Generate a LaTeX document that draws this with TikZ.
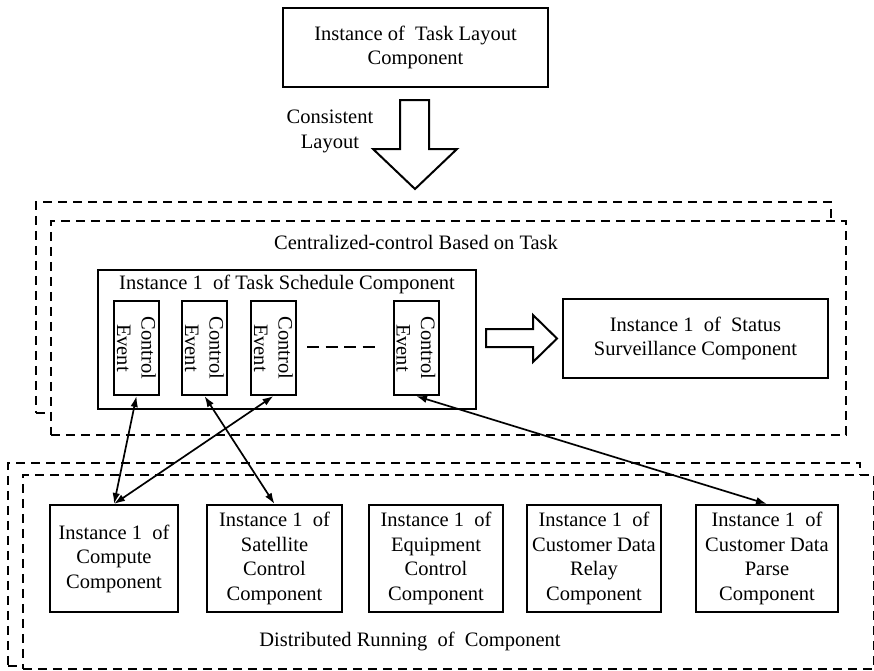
\documentclass[tikz,border=0pt]{standalone}
\usepackage{fontspec}
\setmainfont{Liberation Serif}
\usetikzlibrary{arrows.meta}
\begin{document}
\begin{tikzpicture}[x=1pt,y=-1pt,
  every node/.style={font=\fontsize{20.5}{24.5}\selectfont, inner sep=2pt, align=center},
  box/.style={draw, line width=2pt},
  grp/.style={draw, line width=1.8pt, dash pattern=on 9pt off 6pt, fill=white,
    anchor=north west, inner sep=0pt},
  evbox/.style={box, rotate=-90, minimum width=94, minimum height=45, inner sep=0pt},
  comp/.style={box, minimum height=107},
  hollow/.style={draw, line width=2pt, fill=white, line join=miter},
  link/.style={{Latex[length=11pt,width=7.5pt]}-{Latex[length=11pt,width=7.5pt]}, line width=1.7pt}
]
\useasboundingbox (0,0) rectangle (874,670);

% task layout and the broad arrow below it
\node[box, minimum width=265, minimum height=79] (layout) at (415.5,47.5)
  {Instance of\ \ Task Layout\\Component};
\draw[hollow] (400,100) -- (429,100) -- (429,149) -- (457,149) -- (415,189)
  -- (373,149) -- (400,149) -- cycle;
\node (consist) at (330,131.5) {Consistent\\Layout};

% centralized control group (two stacked dashed frames)
\node[grp, minimum width=795, minimum height=211] (ctrlback) at (35,201) {};
\node[grp, minimum width=795, minimum height=214] (ctrl) at (50,220) {};
\node (ctrltitle) at (416,242) {Centralized-control Based on Task};

\node[box, minimum width=378, minimum height=139] (sched) at (287,339.5) {};
\node (schedtitle) at (287,284) {Instance 1\ \ of Task Schedule Component};

\node[evbox] (ev1) at (136.5,348) {Control\\Event};
\node[evbox] (ev2) at (204.5,348) {Control\\Event};
\node[evbox] (ev3) at (273.5,348) {Control\\Event};
\node[evbox] (ev4) at (416,348) {Control\\Event};
\draw[line width=2pt, dash pattern=on 12pt off 6.5pt] (307,347) -- (377,347);

\draw[hollow] (486,329) -- (533,329) -- (533,315) -- (557,338.5) -- (533,362)
  -- (533,347) -- (486,347) -- cycle;
\node[box, minimum width=265, minimum height=79] (status) at (695.5,338.5)
  {Instance 1\ \ of\ \ Status\\Surveillance Component};

% distributed running group
\node[grp, minimum width=852, minimum height=203] (distback) at (7,462) {};
\node[grp, minimum width=851, minimum height=194] (dist) at (22,474) {};
\node (disttitle) at (410,641) {Distributed Running\ \ of\ \ Component};

\node[comp, minimum width=128] (compute) at (114,558.5)
  {Instance 1\ \ of\\Compute\\Component};
\node[comp, minimum width=135] (sat) at (274.5,558.5)
  {Instance 1\ \ of\\Satellite\\Control\\Component};
\node[comp, minimum width=134] (equip) at (436,558.5)
  {Instance 1\ \ of\\Equipment\\Control\\Component};
\node[comp, minimum width=134] (relay) at (594,558.5)
  {Instance 1\ \ of\\Customer Data\\Relay\\Component};
\node[comp, minimum width=142] (parse) at (767,558.5)
  {Instance 1\ \ of\\Customer Data\\Parse\\Component};

% event links
\draw[link] (ev1.east) -- (compute.north);
\draw[link] (ev2.east) -- (sat.north);
\draw[link] (ev3.east) -- (compute.north);
\draw[link] (ev4.east) -- (parse.north);
\end{tikzpicture}
\end{document}
